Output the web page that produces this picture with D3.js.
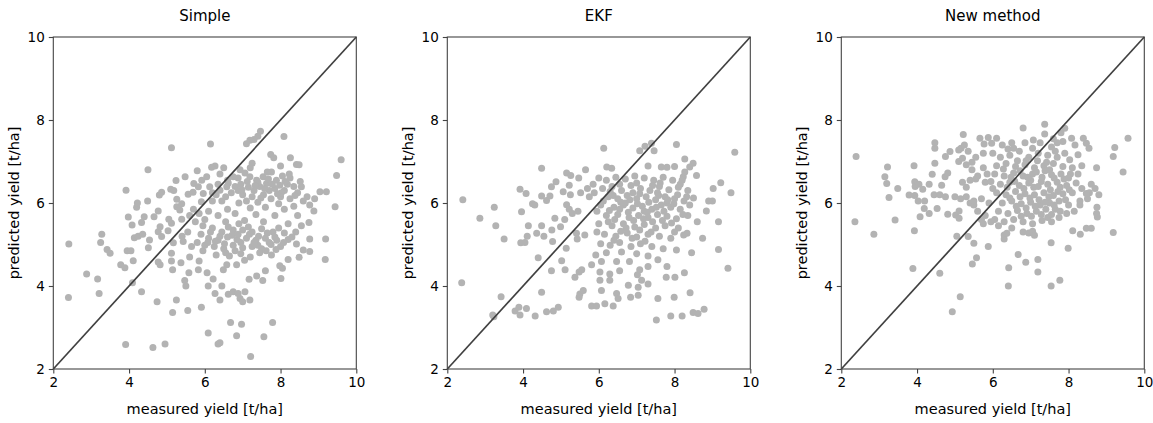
<!DOCTYPE html>
<html>
<head>
<meta charset="utf-8">
<script src="https://cdn.jsdelivr.net/npm/d3@7"></script>
<style>
  body { margin: 0; background: #fff; }
  svg { font-family: "DejaVu Sans", sans-serif; }
</style>
</head>
<body>
<svg id="chart" width="1153" height="423"></svg>
<script>
// axis ticks shared by all panels
let ticks = [2, 4, 6, 8, 10]
let titles = ["Simple", "EKF", "New method"]

// measured vs predicted yield [t/ha]
let simplePts = [
  [2.41,5.01],[2.40,3.72],[2.88,4.29],[3.17,4.17],[3.21,3.82],[3.28,5.25],[3.25,5.05],[3.42,4.88],[3.50,4.79],
  [3.78,4.51],[3.89,4.44],[3.91,2.59],[3.92,6.31],[3.95,4.85],[3.98,5.66],[4.05,4.85],[4.08,5.47],[4.09,4.08],
  [4.11,4.61],[4.14,5.16],[4.20,5.90],[4.22,6.00],[4.24,5.20],[4.33,5.53],[4.33,3.86],[4.36,5.25],[4.40,5.67],
  [4.49,6.05],[4.50,6.80],[4.51,4.92],[4.54,5.11],[4.63,2.52],[4.66,5.67],[4.74,3.62],[4.77,5.81],[4.77,5.31],
  [4.77,4.58],[4.80,6.19],[4.82,5.43],[4.82,4.51],[4.86,6.26],[4.86,5.19],[4.95,2.60],[5.03,5.33],[5.05,5.61],
  [5.10,6.33],[5.12,7.33],[5.12,5.51],[5.12,4.79],[5.12,4.60],[5.15,4.39],[5.15,3.36],[5.17,5.04],[5.18,6.30],
  [5.24,6.54],[5.25,3.66],[5.26,6.09],[5.26,5.91],[5.34,5.83],[5.37,4.56],[5.39,5.98],[5.39,5.61],[5.43,5.07],
  [5.47,4.13],[5.48,6.63],[5.50,4.00],[5.55,3.41],[5.56,6.21],[5.58,4.32],[5.69,6.26],[5.71,6.47],[5.80,6.78],
  [5.83,6.39],[5.83,4.39],[5.91,3.49],[5.91,6.03],[5.40,5.20],[5.55,5.30],[5.60,5.70],[5.75,5.55],[5.80,5.05],
  [5.90,5.25],[5.70,5.85],[5.85,5.75],[5.95,5.45],[5.65,4.95],[5.60,4.70],[5.85,4.60],[5.95,4.85],
  [9.44,5.91],[8.88,5.81],[8.77,5.95],[8.75,5.53],[9.19,5.13],[9.18,4.64],[8.77,5.13],[8.77,4.83],[8.49,4.69],
  [8.20,4.64],[8.60,4.87],[8.42,5.01],[7.98,4.49],[8.05,4.43],[8.01,4.18],[7.76,4.75],[7.60,4.37],[7.53,4.13],
  [7.37,4.24],[7.17,4.16],[6.84,4.51],[6.58,4.51],[6.49,4.39],[6.06,4.32],[6.22,4.17],[6.09,4.00],[6.45,4.00],
  [6.27,3.82],[6.40,3.66],[6.62,3.80],[6.75,3.86],[6.88,3.82],[7.06,3.86],[6.93,3.70],[7.00,3.62],[7.19,3.66],
  [6.68,3.12],[6.97,3.08],[7.79,3.12],[6.09,2.87],[6.84,2.80],[7.56,2.78],[6.40,2.63],[6.35,2.60],[7.21,2.30],
  [7.47,7.73],[7.40,7.61],[7.30,7.53],[7.19,7.51],[7.10,7.43],[8.09,7.60],[6.15,7.42],[7.74,7.17],[7.82,7.09],
  [8.26,7.09],[9.60,7.04],[8.42,6.93],[8.49,6.92],[8.00,6.89],[7.25,6.96],[6.27,6.89],[6.18,6.86],[9.48,6.66],
  [8.23,6.70],[7.76,6.75],[6.93,6.80],[8.55,6.39],[9.04,6.27],[9.21,6.27],
  [6.05,6.63],[5.92,6.55],[6.40,6.70],[6.75,6.63],[6.88,6.60],[7.06,6.72],[7.19,6.63],[7.37,6.55],[7.54,6.63],
  [7.63,6.47],[7.89,6.55],[7.98,6.43],[8.25,6.60],[6.58,6.39],[6.40,6.31],[6.13,6.39],[5.96,6.23],
  [6.80,6.40],[6.95,6.45],[7.15,6.38],[7.30,6.30],[7.45,6.40],[7.70,6.30],[7.85,6.35],[8.10,6.30],[8.35,6.40],
  [8.45,6.25],[8.70,6.15],[6.30,6.20],[6.55,6.15],[6.70,6.25],[7.00,6.20],[7.25,6.15],[7.55,6.20],[7.75,6.10],
  [8.00,6.15],[8.25,6.10],[8.60,6.05],[8.90,6.10],[7.10,6.05],[6.45,6.05],[6.90,6.00],[7.40,6.02],[7.95,5.98],
  [8.35,5.92],[6.20,6.05],[7.60,5.90],[7.20,5.88],[6.60,5.85],[8.10,5.85],[6.10,5.80],[6.35,5.70],[6.80,5.75],
  [7.35,5.72],[7.85,5.70],[8.45,5.70],[6.00,5.60],[6.55,5.55],[7.05,5.58],[7.55,5.55],[8.20,5.50],[8.55,5.45],
  [7.00,5.35],[6.20,5.40],[6.45,5.30],[6.75,5.35],[7.25,5.30],[7.50,5.38],[7.80,5.30],[8.10,5.28],[8.40,5.30],
  [6.10,5.15],[6.35,5.10],[6.60,5.18],[6.85,5.12],[7.10,5.15],[7.35,5.10],[7.60,5.15],[7.90,5.10],[8.20,5.12],
  [6.25,4.95],[6.50,4.90],[6.75,4.98],[7.00,4.92],[7.25,4.95],[7.50,4.90],[7.75,5.00],[8.00,4.95],[6.00,4.98],
  [6.30,4.75],[6.65,4.72],[6.95,4.78],[7.20,4.70],[7.45,4.80],[6.15,5.30],[6.90,5.50],[7.70,5.05],[7.40,6.50],
  [6.60,6.55],[8.05,6.65],[7.65,6.75],[7.20,6.85],[6.50,6.85],
  [6.62,6.48],[6.88,6.30],[7.12,6.52],[7.33,6.42],[7.58,6.35],[7.78,6.45],[8.02,6.25],[8.18,6.45],[8.38,6.18],
  [7.48,6.12],[7.92,6.22],[6.98,6.32],[7.68,6.58],[8.12,6.52],[8.52,6.52],[6.35,6.45],[6.20,6.25],
  [6.28,5.08],[6.52,5.02],[6.72,5.22],[6.95,5.05],[7.18,5.25],[7.42,5.20],[7.65,5.28],[7.85,5.18],[8.08,5.05],
  [8.30,5.18],[6.62,5.42],[6.88,5.25],[7.15,5.42],[7.40,4.98],[7.62,4.85],[6.40,5.20],[6.08,5.05],[7.95,5.40],
  [6.80,4.85],[7.05,4.62],[7.30,5.05],[6.55,4.80],[7.88,4.88]
]

let ekfPts = [
  [2.41,6.08],[2.38,4.08],[2.86,5.63],[3.24,5.90],[3.28,5.45],[3.50,5.13],[3.42,3.74],[3.20,3.30],[3.23,3.26],
  [3.79,3.40],[3.89,3.49],[3.92,3.30],[4.09,3.46],[4.32,3.28],[4.62,3.38],[4.80,3.40],[4.93,3.49],[3.92,6.33],
  [3.96,5.79],[3.94,5.04],[4.05,5.05],[4.08,6.23],[4.11,5.20],[4.14,5.45],[4.25,5.98],[4.31,5.95],[4.36,5.27],
  [4.40,4.68],[4.49,6.84],[4.49,6.17],[4.49,5.45],[4.49,3.85],[4.55,5.20],[4.62,6.06],[4.71,6.17],[4.75,6.39],
  [4.75,4.37],[4.76,5.35],[4.78,5.07],[4.84,5.63],[4.87,6.51],[4.99,5.43],[5.02,4.61],[5.06,6.27],[5.10,5.60],
  [5.14,4.91],[5.11,4.39],[5.15,6.72],[5.15,5.96],[5.22,6.43],[5.26,6.66],[5.25,6.20],[5.22,5.85],[5.30,5.75],
  [5.37,4.21],[5.41,5.27],[5.43,5.13],[5.47,6.60],[5.45,5.80],[5.48,4.34],[5.48,3.73],[5.50,3.81],[5.52,6.25],
  [5.55,4.39],[5.59,3.89],[5.63,5.23],[5.65,6.80],[5.70,6.35],[5.75,6.15],[5.81,4.51],[5.81,3.52],[5.85,6.45],
  [5.88,6.25],[5.92,4.75],[5.94,3.52],
  [9.41,4.43],[9.16,5.55],[9.16,4.88],[8.84,5.81],[9.00,6.05],[8.74,5.15],[8.45,4.80],[8.26,4.32],[8.41,3.84],
  [8.01,4.21],[7.99,3.73],[7.78,4.21],[7.80,4.47],[7.56,3.70],[7.30,4.05],[7.04,3.97],[7.04,3.78],[6.84,3.73],
  [6.78,4.02],[6.47,3.82],[6.51,3.70],[6.16,3.57],[6.38,3.52],[6.07,3.89],[7.52,3.18],[7.90,3.28],[8.20,3.28],
  [8.49,3.36],[8.62,3.34],[8.78,3.44],[6.07,4.59],[6.47,4.59],[6.81,4.59],[7.56,4.63],[8.05,4.87],[8.33,5.27],
  [8.24,5.23],[6.55,4.37],[6.29,4.29],[6.29,4.14],[6.03,4.34],[6.03,4.14],[7.02,4.27],[7.08,4.39],[7.30,4.47],
  [7.13,4.14],
  [6.13,7.32],[7.22,7.37],[7.39,7.44],[7.08,7.26],[7.46,7.26],[8.05,7.41],[9.59,7.22],[8.27,7.06],[8.49,6.96],
  [8.40,6.87],[7.30,6.89],[6.21,6.87],[6.34,6.84],[7.65,6.87],[7.80,6.86],[8.00,6.88],[8.58,6.66],[9.22,6.49],
  [9.02,6.35],[9.49,6.25],[8.23,6.63],[8.27,6.75],[8.90,6.05],
  [6.00,6.60],[6.20,6.55],[6.45,6.62],[6.70,6.58],[6.95,6.65],[7.20,6.60],[7.45,6.55],[7.70,6.62],[7.95,6.55],
  [6.10,6.35],[6.35,6.40],[6.60,6.30],[6.85,6.42],[7.10,6.35],[7.35,6.30],[7.60,6.40],[7.85,6.32],[8.10,6.38],
  [8.35,6.30],[6.25,6.15],[6.50,6.10],[6.75,6.18],[7.00,6.10],[7.25,6.15],[7.50,6.08],[7.75,6.15],[8.00,6.10],
  [8.25,6.05],[8.50,6.12],[6.05,5.95],[6.40,5.90],[6.65,5.95],[6.90,5.88],[7.15,5.92],[7.40,5.85],[7.65,5.95],
  [7.90,5.90],[8.15,5.85],[6.20,5.70],[6.50,5.72],[6.80,5.65],[7.05,5.70],[7.30,5.65],[7.55,5.72],[7.80,5.68],
  [8.05,5.62],[8.35,5.70],[6.00,5.50],[6.35,5.45],[6.65,5.50],[6.95,5.42],[7.20,5.48],[7.50,5.40],[7.75,5.45],
  [8.10,5.40],[6.15,5.25],[6.45,5.20],[6.75,5.28],[7.00,5.18],[7.30,5.25],[7.60,5.20],[7.90,5.15],[6.05,5.02],
  [6.30,4.98],[6.55,5.05],[6.85,4.95],[7.10,5.02],[7.40,4.95],[7.70,4.90],[6.20,4.80],[6.60,4.82],[7.00,4.78],
  [7.30,4.72],[5.95,5.80],[5.95,5.30],[8.40,5.95],[8.60,5.55],[8.00,5.30],[7.55,6.25],[6.70,6.00],[7.20,5.80],
  [6.30,6.28],[7.00,6.48],[8.20,6.55],[7.80,6.00],
  [6.12,6.05],[6.38,6.18],[6.58,6.02],[6.82,6.08],[7.08,6.22],[7.32,6.02],[7.58,6.18],[7.82,6.08],[8.08,6.20],
  [8.32,6.15],[6.28,5.82],[6.55,5.85],[6.78,5.78],[7.02,5.98],[7.28,5.78],[7.52,5.90],[7.72,5.80],[7.98,5.98],
  [8.22,5.72],[6.42,5.60],[6.92,5.58],[7.18,5.62],[7.42,5.55],[7.68,5.58],[7.92,5.52],[6.72,5.40],[7.08,5.35],
  [7.38,5.30],[6.58,5.32],[6.88,5.15],[7.22,5.08],[6.40,5.10],[6.25,5.55],[8.15,6.45],[7.62,6.48],[6.90,6.25],
  [7.42,6.42],[6.55,6.45]
]

let newPts = [
  [2.39,7.12],[2.36,5.55],[2.86,5.25],[3.22,6.87],[3.15,6.63],[3.20,6.47],[3.49,6.35],[3.26,6.13],[3.42,5.59],
  [3.92,6.90],[3.94,6.51],[3.95,6.40],[4.05,6.45],[4.15,6.33],[3.79,6.19],[3.94,6.18],[3.93,5.33],[3.89,4.42],
  [4.60,4.31],[5.14,3.74],[4.93,3.38],[4.40,6.69],[4.47,6.96],[4.47,7.32],[4.47,7.45],[4.32,6.45],[4.65,6.43],
  [4.74,6.63],[4.81,6.72],[4.75,7.12],[4.87,7.24],[4.75,6.15],[4.20,6.05],[4.45,6.20],[4.60,6.20],[4.03,6.05],
  [4.08,5.67],[4.19,5.87],[4.32,5.75],[4.53,5.87],[4.81,5.73],[5.02,5.71],[5.11,5.81],[5.11,5.63],[5.05,5.20],
  [5.35,5.19],[5.50,5.03],[5.57,4.68],[5.46,4.53],[5.88,4.95],[5.22,7.65],[5.16,7.32],[5.10,7.28],[5.25,7.40],
  [5.35,7.25],[5.66,7.56],[5.88,7.58],[5.97,7.44],[5.77,7.42],[5.75,7.20],[5.10,7.00],[5.20,7.08],[5.30,6.92],
  [5.45,6.98],[5.55,7.10],[5.45,6.80],[5.60,6.65],[5.75,6.85],[5.85,6.70],[5.20,6.50],[5.30,6.38],[5.40,6.55],
  [5.55,6.58],[5.80,6.50],[5.95,6.52],[5.00,6.15],[5.15,6.10],[5.30,6.15],[5.40,6.00],[5.50,5.95],[5.70,6.10],
  [5.90,6.00],[5.50,6.05],[5.60,5.80],[5.70,5.60],[5.80,5.70],[5.95,5.55],[5.75,5.50],
  [7.37,7.90],[6.80,7.81],[7.37,7.66],[7.90,7.80],[7.80,7.69],[9.57,7.56],[9.22,7.34],[9.18,7.12],[8.74,6.85],
  [9.44,6.75],[8.47,7.44],[8.39,7.56],[8.54,7.32],[8.08,7.56],[8.17,7.40],[8.25,7.16],[8.03,7.04],[7.07,7.52],
  [6.10,7.56],[6.25,7.40],[6.40,7.30],[7.55,7.35],[7.70,7.45],[7.85,7.48],[8.60,6.45],[8.70,6.35],[8.35,6.35],
  [8.55,6.25],[8.50,6.10],[8.80,6.20],[8.47,6.23],[8.10,6.85],[8.05,6.70],[8.00,6.60],
  [9.18,5.29],[8.74,5.75],[8.76,5.66],[8.47,5.39],[8.60,5.39],[8.31,5.25],[8.11,5.33],[7.99,4.91],[7.54,5.04],
  [7.77,4.14],[7.54,4.00],[7.19,4.64],[7.19,4.34],[6.87,4.57],[6.67,4.76],[6.42,4.44],[6.41,4.00],[6.30,5.13],
  [6.30,5.23],[6.37,5.27],[6.80,5.30],[6.95,5.28],[7.05,5.32],[7.10,5.22],[7.55,5.55],[7.45,5.65],[7.75,5.65],
  [7.78,5.80],[8.30,5.95],[8.75,5.90],[8.30,6.05],
  [6.00,7.20],[6.20,7.10],[6.45,7.15],[6.70,7.25],[6.95,7.10],[7.20,7.20],[7.45,7.15],[7.70,7.10],[6.10,6.90],
  [6.35,6.95],[6.60,6.88],[6.85,6.92],[7.10,6.85],[7.35,6.90],[7.60,6.95],[7.85,6.88],[6.05,6.70],[6.30,6.65],
  [6.55,6.72],[6.80,6.65],[7.05,6.70],[7.30,6.62],[7.55,6.68],[7.80,6.70],[6.20,6.45],[6.45,6.50],[6.70,6.42],
  [6.95,6.48],[7.20,6.40],[7.45,6.45],[7.70,6.50],[7.95,6.42],[8.20,6.48],[6.10,6.25],[6.35,6.20],[6.60,6.28],
  [6.85,6.22],[7.10,6.20],[7.35,6.25],[7.60,6.18],[7.85,6.22],[8.10,6.25],[6.25,6.00],[6.50,6.05],[6.75,5.98],
  [7.00,6.02],[7.25,5.95],[7.50,6.00],[7.75,6.05],[8.00,5.95],[6.15,5.80],[6.40,5.75],[6.65,5.82],[6.90,5.75],
  [7.15,5.80],[7.40,5.85],[7.65,5.85],[7.95,5.75],[8.15,5.80],[6.05,5.60],[6.30,5.55],[6.55,5.60],[6.80,5.55],
  [7.05,5.50],[7.30,5.58],[6.50,5.40],[6.15,5.45],[7.60,7.55],[6.50,7.45],[6.85,7.45],[7.25,7.45],[8.25,6.70],
  [8.35,6.90],[6.00,6.35],[7.00,6.55],[7.50,6.80],[6.65,7.02],[7.90,7.20],
  [6.28,6.82],[6.48,6.62],[6.72,6.78],[6.92,6.62],[7.15,6.75],[7.38,6.78],[7.62,6.60],[7.88,6.58],[6.38,6.38],
  [6.58,6.52],[6.82,6.35],[7.08,6.38],[7.28,6.52],[7.52,6.32],[7.78,6.38],[8.02,6.32],[6.45,6.12],[6.72,6.15],
  [6.98,6.12],[7.22,6.08],[7.48,6.15],[7.72,6.28],[7.92,6.08],[6.62,5.92],[6.88,5.88],[7.12,5.92],[7.38,6.02],
  [7.62,5.95],[7.02,5.68],[7.28,5.72],[6.75,5.68],[7.55,5.72],[6.88,7.02],[7.18,7.02],[7.42,6.98],[6.55,7.32],
  [7.05,7.32],[7.65,7.25]
]

let panelData = [simplePts, ekfPts, newPts]

let lefts = [53.3, 447.3, 841.3],
    plotTop = 37,
    w = 303,
    h = 332,
    dotColor = "#b3b3b3",
    spineColor = "#444"

let svg = d3.select("#chart")

panelData.forEach((pts, i) => {
  let x = d3.scaleLinear().domain([2, 10]).range([0, w])
  let y = d3.scaleLinear().domain([2, 10]).range([h, 0])

  let g = svg.append("g").attr("transform", `translate(${lefts[i]},${plotTop})`)

  g.selectAll("circle")
    .data(pts).enter()
    .append("circle")
    .attr("cx", d => x(d[0]))
    .attr("cy", d => y(d[1]))
    .attr("r", 3.5)
    .attr("fill", dotColor)

  // 1:1 line
  g.append("line")
    .attr("x1", x(2)).attr("y1", y(2))
    .attr("x2", x(10)).attr("y2", y(10))
    .attr("stroke", "#404040")
    .attr("stroke-width", 1.7)

  let xAxis = g.append("g")
    .attr("transform", `translate(0,${h})`)
    .call(d3.axisBottom(x).tickValues(ticks).tickSizeOuter(0).tickSize(4.5).tickPadding(4))
  let yAxis = g.append("g")
    .call(d3.axisLeft(y).tickValues(ticks).tickSizeOuter(0).tickSize(4.5).tickPadding(4))

  for (let ax of [xAxis, yAxis]) {
    ax.select(".domain").remove()
    ax.selectAll("line").attr("stroke", spineColor).attr("stroke-width", 1.1)
    ax.selectAll("text").attr("fill", "#000").style("font-size", "13.5px")
      .style("font-family", "DejaVu Sans")
  }

  // box spines
  g.append("rect")
    .attr("x", 0).attr("y", 0)
    .attr("width", w).attr("height", h)
    .attr("fill", "none")
    .attr("stroke", spineColor)
    .attr("stroke-width", 1.1)

  g.append("text")
    .attr("x", w / 2).attr("y", -16)
    .attr("text-anchor", "middle")
    .style("font-size", "15px")
    .text(titles[i])

  g.append("text")
    .attr("x", w / 2).attr("y", h + 45)
    .attr("text-anchor", "middle")
    .style("font-size", "14.5px")
    .text("measured yield [t/ha]")

  g.append("text")
    .attr("transform", `translate(-34,${h / 2}) rotate(-90)`)
    .attr("text-anchor", "middle")
    .style("font-size", "14.5px")
    .text("predicted yield [t/ha]")
})
</script>
</body>
</html>
